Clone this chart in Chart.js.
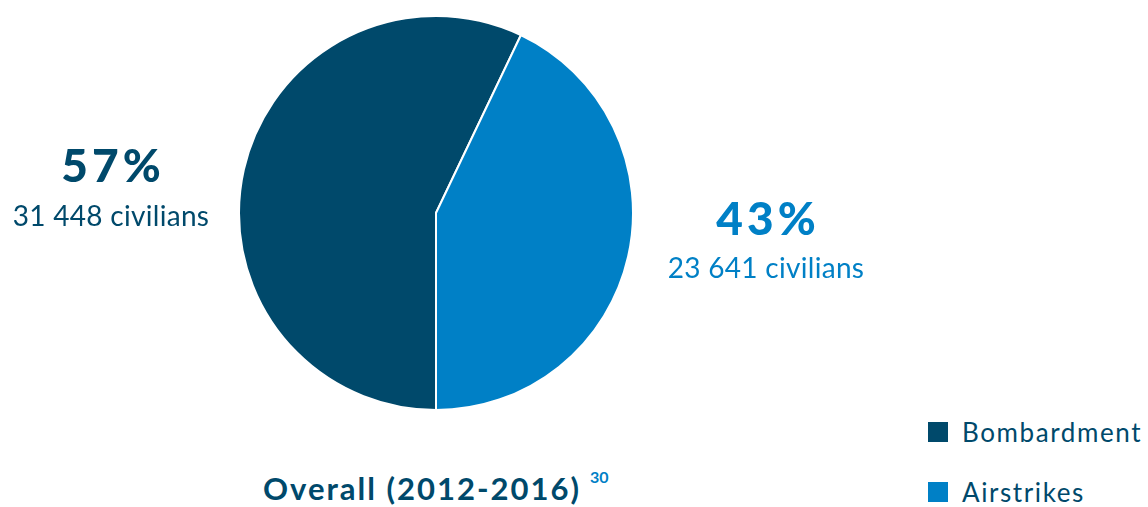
<!DOCTYPE html>
<html>
<head>
<meta charset="utf-8">
<script src="https://cdn.jsdelivr.net/npm/chart.js@4/dist/chart.umd.min.js"></script>
<style>
  body { margin: 0; background: #fff; font-family: Lato, "Open Sans", sans-serif; }
  #wrap { position: relative; width: 1148px; height: 507px; overflow: hidden; }
  #pieBox { position: absolute; left: 238px; top: 15px; width: 396px; height: 396px; }
  .txt { position: absolute; white-space: nowrap; }
  .pct { font-weight: 900; font-size: 46px; line-height: 46px; letter-spacing: 4px; text-align: center; width: 300px; }
  .civ { font-size: 28px; line-height: 28px; letter-spacing: 0.3px; text-align: center; width: 300px; }
  #title { left: 263px; top: 473px; font-weight: 700; font-size: 31px; line-height: 31px; letter-spacing: 2px; color: #00496b; }
  #note { left: 590px; top: 469px; font-weight: 700; font-size: 16px; line-height: 16px; color: #0080c6; }
  .legTxt { left: 962px; font-size: 26px; line-height: 26px; letter-spacing: 1.6px; color: #00496b; }
  .sw { position: absolute; left: 928px; width: 20px; height: 20px; }
</style>
</head>
<body>
<div id="wrap">
  <div id="pieBox"><canvas id="chartPie"></canvas></div>
  <div id="title" class="txt">Overall (2012-2016)</div>
  <div id="note" class="txt">30</div>
</div>
<script>
// donnees du camembert
const categories = ["Bombardment", "Airstrikes"]
const civilians = [31448, 23641]
const colors = ["#00496b", "#0080c6"]

// position des etiquettes : centre x, haut du pourcentage, haut du nombre
const labelPos = [[111, 142, 201], [766, 195, 253]]
const legendTop = [422, 482]

let total = civilians.reduce((a, b) => a + b, 0)

let dataPie = {
    labels: categories,
    datasets: [
    {
        data: civilians,
        backgroundColor: colors,
        borderColor: "#ffffff",
        borderWidth: 2,
    },
    ],
}

let configPie = {
    type: "pie",
    data: dataPie,
    options: {
        responsive: true,
        maintainAspectRatio: false,
        animation: false,
        rotation: 180,
        plugins: { legend: { display: false }, tooltip: { enabled: false } },
    },
}

new Chart(document.getElementById("chartPie"), configPie)

let wrap = document.getElementById("wrap")

function addText(cls, text, left, top, color){
    let el = document.createElement("div")
    el.className = "txt " + cls
    el.textContent = text
    el.style.left = left + "px"
    el.style.top = top + "px"
    if (color) el.style.color = color
    wrap.appendChild(el)
    return el
}

categories.forEach((cat, i) => {
    //etiquette pourcentage + nombre de civils
    let pct = Math.round(civilians[i] / total * 100)
    let num = civilians[i].toString().replace(/\B(?=(\d{3})+(?!\d))/g, " ")
    let p = addText("pct", pct + "%", labelPos[i][0] - 150 + 2, labelPos[i][1], colors[i])
    addText("civ", num + " civilians", labelPos[i][0] - 150, labelPos[i][2], colors[i])

    //legende
    let sw = document.createElement("div")
    sw.className = "sw"
    sw.style.top = legendTop[i] + "px"
    sw.style.background = colors[i]
    wrap.appendChild(sw)
    addText("legTxt", cat, 962, legendTop[i] - 3)
})
</script>
</body>
</html>
